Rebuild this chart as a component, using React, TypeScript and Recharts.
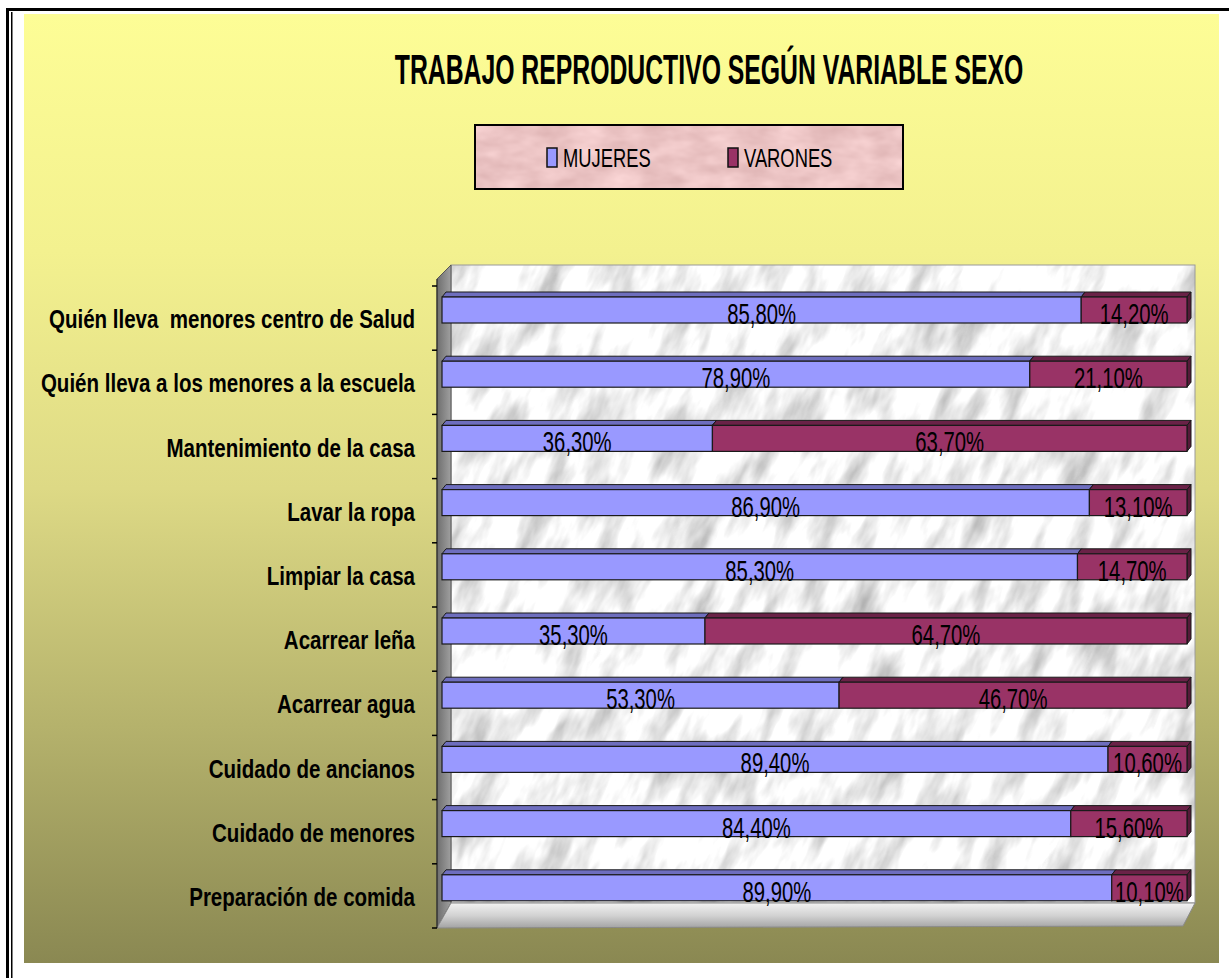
import { Bar, BarChart, LabelList, Legend, XAxis, YAxis } from "recharts";

const categories = [
  "Quién lleva  menores centro de Salud",
  "Quién lleva a los menores a la escuela",
  "Mantenimiento de la casa",
  "Lavar la ropa",
  "Limpiar la casa",
  "Acarrear leña",
  "Acarrear agua",
  "Cuidado de ancianos",
  "Cuidado de menores",
  "Preparación de comida",
];
const mujeres = [85.8, 78.9, 36.3, 86.9, 85.3, 35.3, 53.3, 89.4, 84.4, 89.9];
const varones = [14.2, 21.1, 63.7, 13.1, 14.7, 64.7, 46.7, 10.6, 15.6, 10.1];
const seriesNames = ["MUJERES", "VARONES"];
const title = "TRABAJO REPRODUCTIVO SEGÚN VARIABLE SEXO";

const data = categories.map((name, i) => ({ name, mujeres: mujeres[i], varones: varones[i] }));

const W = 1229;
const H = 978;
const FONT = '"Liberation Sans", Arial, sans-serif';
// plot box (front plane of the 3d chart)
const PLOT = { left: 442, right: 1187, top: 286, bottom: 928 };
const BAND = (PLOT.bottom - PLOT.top) / categories.length;
// 3d look of the bars
const LIFT = 8;
const DX = 4;
const DY = 5;

const COLORS = {
  mujeres: { front: "#9999FF", top: "#6E6EBE", side: "#5A5AA0" },
  varones: { front: "#993366", top: "#6A2247", side: "#561A39" },
};

const pct = (v: number) => `${v.toFixed(2).replace(".", ",")}%`;

function Bar3D(props: any) {
  const { x, y, width, height, fill, top, side } = props;
  if (!width || width <= 0) return null;
  const fy = y - LIFT;
  const r = x + width;
  return (
    <g>
      <polygon
        points={`${x},${fy} ${x + DX},${fy - DY} ${r + DX},${fy - DY} ${r},${fy}`}
        fill={top} stroke="#1a1a1a" strokeWidth={1}
      />
      <polygon
        points={`${r},${fy} ${r + DX},${fy - DY} ${r + DX},${fy + height - DY} ${r},${fy + height}`}
        fill={side} stroke="#1a1a1a" strokeWidth={1}
      />
      <rect x={x} y={fy} width={width} height={height} fill={fill} stroke="#1a1a1a" strokeWidth={1.2} />
    </g>
  );
}

function ValueLabel(props: any) {
  const { x, y, width, height, value } = props;
  const cx = Number(x) + Number(width) / 2;
  const base = Number(y) - LIFT + Number(height) + 1;
  return (
    <g transform={`translate(${cx},${base})`}>
      <text transform="scale(0.7,1)" textAnchor="middle" fontFamily={FONT} fontSize={29} fill="#000">
        {pct(Number(value))}
      </text>
    </g>
  );
}

function CategoryTick(props: any) {
  const { x, y, payload, index } = props;
  return (
    <g>
      <g transform={`translate(${x - 19},${y + 10})`}>
        <text
          transform="scale(0.79,1)" textAnchor="end" fontFamily={FONT} fontSize={26}
          fontWeight="bold" fill="#000" style={{ whiteSpace: "pre" }}
        >
          {payload.value}
        </text>
      </g>
      {index === 0 && <line x1={x - 2} x2={x + 3} y1={y - BAND / 2} y2={y - BAND / 2} stroke="#000" strokeWidth={1.5} />}
      <line x1={x - 2} x2={x + 3} y1={y + BAND / 2} y2={y + BAND / 2} stroke="#000" strokeWidth={1.5} />
    </g>
  );
}

function LegendBox({ payload }: any) {
  const items = payload || [];
  return (
    <svg width={430} height={66} style={{ display: "block" }}>
      <defs>
        <filter id="pinkMarble" x="0" y="0" width="100%" height="100%" colorInterpolationFilters="sRGB">
          <feTurbulence type="fractalNoise" baseFrequency="0.03 0.06" numOctaves={3} seed={4} />
          <feColorMatrix type="matrix" values="0.15 0 0 0 0.85  0.18 0 0 0 0.68  0.18 0 0 0 0.68  0 0 0 0 1" />
        </filter>
      </defs>
      <rect x={1} y={1} width={428} height={64} fill="#EBC5C5" filter="url(#pinkMarble)" />
      <rect x={1} y={1} width={428} height={64} fill="none" stroke="#000" strokeWidth={2} />
      {items.map((it: any, i: number) => {
        const sx = 73 + i * 181;
        return (
          <g key={it.value}>
            <rect x={sx} y={24} width={10} height={19} fill={it.color} stroke="#111" strokeWidth={1.5} />
            <g transform={`translate(${sx + 16},43)`}>
              <text transform="scale(0.72,1)" fontFamily={FONT} fontSize={25.5} fill="#000">{it.value}</text>
            </g>
          </g>
        );
      })}
    </svg>
  );
}

function Backdrop() {
  const wallL = 451;
  const wallR = 1195;
  const wallT = 265;
  const floorT = 903;
  const cx = (wallL + wallR) / 2;
  const cy = (wallT + floorT) / 2;
  return (
    <svg width={W} height={H} style={{ position: "absolute", left: 0, top: 0 }}>
      <defs>
        <linearGradient id="bg" x1="0" y1="0" x2="0" y2="1">
          <stop offset="0" stopColor="#FDFD96" />
          <stop offset="0.25" stopColor="#F3F18F" />
          <stop offset="0.5" stopColor="#DDD985" />
          <stop offset="0.75" stopColor="#B5B26C" />
          <stop offset="1" stopColor="#8A8852" />
        </linearGradient>
        <linearGradient id="sideWall" x1="0" y1="0" x2="1" y2="0">
          <stop offset="0" stopColor="#6E6E6E" />
          <stop offset="1" stopColor="#A0A0A0" />
        </linearGradient>
        <linearGradient id="floor" x1="0" y1="0" x2="0" y2="1">
          <stop offset="0" stopColor="#F2F2F2" />
          <stop offset="0.5" stopColor="#D2D2D2" />
          <stop offset="1" stopColor="#A3A3A3" />
        </linearGradient>
        <filter id="marble" x="0" y="0" width="100%" height="100%" colorInterpolationFilters="sRGB">
          <feTurbulence type="fractalNoise" baseFrequency="0.014 0.045" numOctaves={4} seed={9} />
          <feColorMatrix type="matrix" values="-0.6 0 0 0 1.26  -0.6 0 0 0 1.26  -0.6 0 0 0 1.26  0 0 0 0 1" />
        </filter>
        <clipPath id="wallClip">
          <rect x={wallL} y={wallT} width={wallR - wallL} height={floorT - wallT} />
        </clipPath>
      </defs>
      <rect x={0} y={0} width={W} height={H} fill="#fff" />
      <rect x={24} y={14} width={1195} height={949} fill="url(#bg)" />
      <rect x={6} y={8} width={W - 6} height={3} fill="#000" />
      <rect x={6} y={8} width={3} height={H - 8} fill="#000" />
      <rect x={11} y={12} width={1.5} height={H - 12} fill="#000" />

      <g transform="translate(709,84) scale(0.59,1)">
        <text x={0} y={0} textAnchor="middle" fontFamily={FONT} fontSize={42} fontWeight="bold" fill="#000">
          {title}
        </text>
      </g>

      <g clipPath="url(#wallClip)">
        <g transform={`rotate(-65 ${cx} ${cy})`}>
          <rect x={cx - 560} y={cy - 560} width={1120} height={1120} fill="#EEE" filter="url(#marble)" />
        </g>
      </g>
      <rect x={wallL} y={wallT} width={wallR - wallL} height={floorT - wallT} fill="none" stroke="#9A9A9A" strokeWidth={1} />
      <polygon
        points={`437,${wallT + 14} ${wallL},${wallT} ${wallL},${floorT} 437,${PLOT.bottom}`}
        fill="url(#sideWall)" stroke="#555" strokeWidth={1}
      />
      <polygon
        points={`437,${PLOT.bottom} ${wallL},${floorT} ${wallR},${floorT} ${wallR - 12},${PLOT.bottom - 2}`}
        fill="url(#floor)" stroke="#8A8A8A" strokeWidth={1}
      />
      <line x1={437} x2={437} y1={wallT + 14} y2={PLOT.bottom} stroke="#222" strokeWidth={1} />
    </svg>
  );
}

export default function App() {
  const yAxisWidth = 410;
  return (
    <div style={{ position: "absolute", left: 0, top: 0, width: W, height: H, overflow: "hidden" }}>
      <Backdrop />
      <div style={{ position: "absolute", left: 0, top: 0 }}>
        <BarChart
          width={W}
          height={H}
          data={data}
          layout="vertical"
          barSize={26}
          margin={{ top: PLOT.top, right: W - PLOT.right, bottom: H - PLOT.bottom, left: PLOT.left - yAxisWidth }}
        >
          <XAxis type="number" domain={[0, 100]} hide />
          <YAxis
            type="category" dataKey="name" width={yAxisWidth} interval={0}
            axisLine={false} tickLine={false} tickSize={8} tickMargin={0} tick={<CategoryTick />}
          />
          <Legend
            layout="vertical" align="center" verticalAlign="middle"
            wrapperStyle={{ left: 474, top: 124, width: 430, height: 66 }}
            content={(p: any) => <LegendBox payload={p.payload} />}
          />
          <Bar
            dataKey="mujeres" name={seriesNames[0]} stackId="s" fill={COLORS.mujeres.front} isAnimationActive={false}
            shape={(p: any) => <Bar3D {...p} top={COLORS.mujeres.top} side={COLORS.mujeres.side} />}
          >
            <LabelList dataKey="mujeres" content={<ValueLabel />} />
          </Bar>
          <Bar
            dataKey="varones" name={seriesNames[1]} stackId="s" fill={COLORS.varones.front} isAnimationActive={false}
            shape={(p: any) => <Bar3D {...p} top={COLORS.varones.top} side={COLORS.varones.side} />}
          >
            <LabelList dataKey="varones" content={<ValueLabel />} />
          </Bar>
        </BarChart>
      </div>
    </div>
  );
}
